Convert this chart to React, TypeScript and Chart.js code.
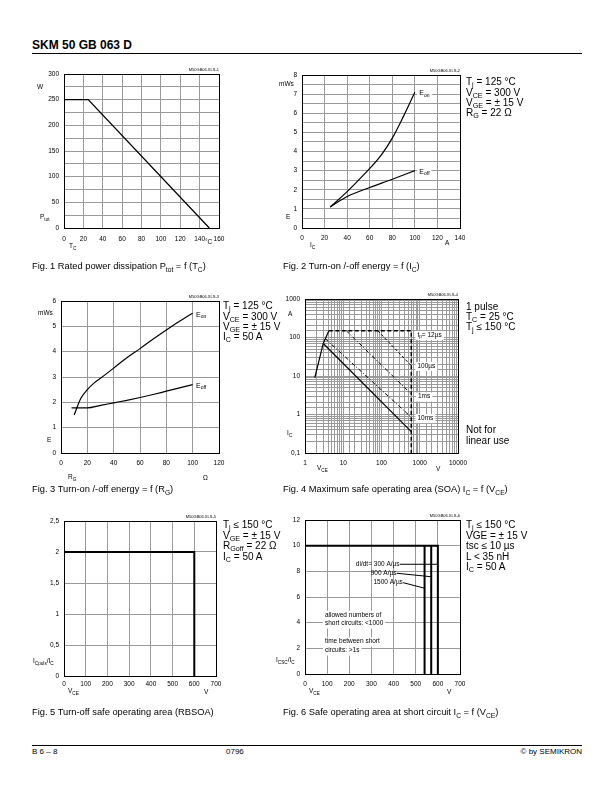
import React, { useEffect, useRef } from 'react';
import { Chart, registerables } from 'chart.js';

Chart.register(...registerables);

const FONT = '"Liberation Sans", Arial, Helvetica, sans-serif';
const GRID = '#9a9a9a';

// ---------- Fig. 1 : Ptot = f(Tc) ----------
const fig1TcC = [0, 25, 150];
const fig1PtotW = [250, 250, 0];

// ---------- Fig. 2 : E = f(Ic) ----------
const fig2IcOnA = [25, 40, 55, 70, 80, 90, 100];
const fig2EonMWs = [1.1, 1.9, 2.8, 3.8, 4.7, 5.85, 7.1];
const fig2IcOffA = [25, 40, 60, 80, 100];
const fig2EoffMWs = [1.1, 1.65, 2.12, 2.55, 3.0];

// ---------- Fig. 3 : E = f(Rg) ----------
const fig3RgOnOhm = [10, 15, 20, 25, 30, 40, 50, 60, 70, 80, 90, 100];
const fig3EonMWs = [1.5, 2.15, 2.5, 2.76, 2.95, 3.35, 3.76, 4.12, 4.5, 4.86, 5.2, 5.52];
const fig3RgOffOhm = [8, 20, 30, 40, 50, 60, 70, 80, 90, 100];
const fig3EoffMWs = [1.78, 1.78, 1.88, 1.98, 2.08, 2.19, 2.31, 2.44, 2.57, 2.7];

// ---------- Fig. 4 : SOA ----------
const fig4LimbV = [1.8, 3, 4.2];
const fig4LimbA = [9, 70, 150];
const fig4DcV = [3, 600];
const fig4DcA = [70, 0.36];
const fig4TpV = [4.2, 600, 600];
const fig4TpA = [150, 150, 0.1];
const fig4P100usV = [80, 600];
const fig4P100usA = [150, 18.5];
const fig4P1msV = [12, 600];
const fig4P1msA = [150, 3.4];
const fig4P10msV = [3.4, 600];
const fig4P10msA = [93, 0.85];

// ---------- Fig. 5 : RBSOA ----------
const fig5VceV = [0, 600, 600];
const fig5Ratio = [2, 2, 0];

// ---------- Fig. 6 : short circuit SOA ----------
const fig6LimitV = [0, 600, 600];
const fig6LimitRatio = [10, 10, 0];
const fig6Line570V = [570, 570];
const fig6Line540V = [540, 540];
const fig6VertRatio = [10, 0];
const fig6Lead300V = [428, 600];
const fig6Lead300R = [8.55, 8.55];
const fig6Lead900V = [414, 570];
const fig6Lead900R = [7.85, 7.58];
const fig6Lead1500V = [443, 540];
const fig6Lead1500R = [7.12, 6.68];

const YW = 44;
const XH = 18;
const PT = 8;
const PR = 16;

type Part = [string, boolean?];
type Note = { x: number; y: number; parts: Part[]; align?: 'left' | 'right'; bg?: boolean; size?: number };
type Series = { xs: number[]; ys: number[]; width: number; dash?: number[]; smooth?: boolean };
type AxisSpec = {
  type: 'linear' | 'logarithmic';
  min: number;
  max: number;
  step?: number;
  label: (v: number) => string;
  pad: number;
};
type Spec = {
  left: number;
  top: number;
  right: number;
  bottom: number;
  x: AxisSpec;
  y: AxisSpec;
  series: Series[];
  notes?: Note[];
};

const isPow10 = (v: number) => {
  const l = Math.log10(v);
  return Math.abs(l - Math.round(l)) < 1e-6;
};
const comma = (v: number) => String(v).replace('.', ',');

function drawParts(ctx: CanvasRenderingContext2D, n: Note) {
  const size = n.size || 7;
  const widths = n.parts.map(([t, sub]) => {
    ctx.font = `${sub ? size * 0.72 : size}px ${FONT}`;
    return ctx.measureText(t).width;
  });
  const w = widths.reduce((a, b) => a + b, 0);
  let cx = n.align === 'right' ? n.x - w : n.x;
  if (n.bg) {
    ctx.fillStyle = '#fff';
    ctx.fillRect(cx - 2, n.y - size * 0.65, w + 4, size * 1.4);
  }
  ctx.fillStyle = '#000';
  ctx.textBaseline = 'middle';
  ctx.textAlign = 'left';
  n.parts.forEach(([t, sub], i) => {
    ctx.font = `${sub ? size * 0.72 : size}px ${FONT}`;
    ctx.fillText(t, cx, sub ? n.y + size * 0.3 : n.y);
    cx += widths[i];
  });
}

function axisOpts(a: AxisSpec, horiz: boolean) {
  return {
    type: a.type,
    min: a.min,
    max: a.max,
    position: horiz ? 'bottom' : 'left',
    ticks: {
      stepSize: a.step,
      autoSkip: false,
      maxRotation: 0,
      minRotation: 0,
      includeBounds: true,
      padding: a.pad,
      color: '#000',
      font: { family: FONT, size: 6.5 },
      callback: (v: any) => a.label(Number(v)),
    },
    grid: { color: GRID, lineWidth: 1, drawTicks: false },
    border: { display: false },
    afterFit: (s: any) => {
      if (horiz) s.height = XH;
      else s.width = YW;
      s.paddingLeft = 0;
      s.paddingRight = 0;
      s.paddingTop = 0;
      s.paddingBottom = 0;
    },
  };
}

function ChartBox({ spec }: { spec: Spec }) {
  const ref = useRef<HTMLCanvasElement>(null);
  const w = spec.right - spec.left + YW + PR;
  const h = spec.bottom - spec.top + PT + XH;
  useEffect(() => {
    const canvas = ref.current;
    if (!canvas) return;
    const notes = spec.notes || [];
    const chart = new Chart(canvas, {
      type: 'line',
      data: {
        datasets: spec.series.map((s) => ({
          data: s.xs.map((x, i) => ({ x, y: s.ys[i] })),
          borderColor: '#000',
          borderWidth: s.width,
          borderDash: s.dash || [],
          pointRadius: 0,
          fill: false,
          tension: 0,
          cubicInterpolationMode: s.smooth ? 'monotone' : 'default',
        })),
      },
      options: {
        responsive: false,
        animation: false,
        events: [],
        layout: { padding: { left: 0, top: PT, right: PR, bottom: 0 } },
        plugins: { legend: { display: false }, tooltip: { enabled: false }, title: { display: false } },
        scales: { x: axisOpts(spec.x, true), y: axisOpts(spec.y, false) } as any,
      },
      plugins: [
        {
          id: 'frameNotes',
          beforeDatasetsDraw(c: any) {
            const { ctx, chartArea: a } = c;
            ctx.save();
            ctx.strokeStyle = '#000';
            ctx.lineWidth = 1;
            ctx.strokeRect(
              Math.round(a.left) + 0.5,
              Math.round(a.top) + 0.5,
              Math.round(a.right) - Math.round(a.left),
              Math.round(a.bottom) - Math.round(a.top)
            );
            ctx.restore();
          },
          afterDatasetsDraw(c: any) {
            const { ctx } = c;
            ctx.save();
            notes.forEach((n) => {
              drawParts(ctx, {
                ...n,
                x: c.scales.x.getPixelForValue(n.x),
                y: c.scales.y.getPixelForValue(n.y),
              });
            });
            ctx.restore();
          },
        },
      ],
    } as any);
    return () => chart.destroy();
  }, []);
  return (
    <div style={{ position: 'absolute', left: spec.left - YW, top: spec.top - PT, width: w, height: h }}>
      <canvas ref={ref} width={w} height={h} style={{ width: w, height: h, display: 'block' }} />
    </div>
  );
}

const S = ({ children }: { children: React.ReactNode }) => (
  <span style={{ fontSize: '0.72em', position: 'relative', top: '0.32em' }}>{children}</span>
);

function Txt({
  x,
  y,
  size,
  children,
  right,
  bold,
}: {
  x: number;
  y: number;
  size: number;
  children: React.ReactNode;
  right?: boolean;
  bold?: boolean;
}) {
  const style: React.CSSProperties = {
    position: 'absolute',
    top: y - size * 0.6,
    fontSize: size,
    lineHeight: `${size * 1.2}px`,
    whiteSpace: 'nowrap',
    fontFamily: FONT,
    fontWeight: bold ? 'bold' : 'normal',
    color: '#000',
  };
  if (right) style.right = 614 - x;
  else style.left = x;
  return <div style={style}>{children}</div>;
}

const lin = (min: number, max: number, step: number, label: (v: number) => string, pad: number): AxisSpec => ({
  type: 'linear',
  min,
  max,
  step,
  label,
  pad,
});
const str = (v: number) => String(v);

export default function App() {
  const fig1: Spec = {
    left: 64, top: 74, right: 219, bottom: 228,
    x: lin(0, 160, 20, str, 7),
    y: lin(0, 300, 25, (v) => (v % 50 === 0 ? str(v) : ''), 5),
    series: [{ xs: fig1TcC, ys: fig1PtotW, width: 1.3 }],
  };
  const fig2: Spec = {
    left: 302, top: 75, right: 460, bottom: 228,
    x: lin(0, 140, 20, str, 6),
    y: lin(0, 8, 0.5, (v) => (Number.isInteger(v) ? str(v) : ''), 5),
    series: [
      { xs: fig2IcOnA, ys: fig2EonMWs, width: 1.2, smooth: true },
      { xs: fig2IcOffA, ys: fig2EoffMWs, width: 1.2, smooth: true },
    ],
    notes: [
      { x: 104, y: 7.05, parts: [['E'], ['on', true]], bg: true },
      { x: 104, y: 2.95, parts: [['E'], ['off', true]], bg: true },
    ],
  };
  const fig3: Spec = {
    left: 61, top: 301, right: 219, bottom: 453,
    x: lin(0, 120, 20, str, 6),
    y: lin(0, 6, 1, str, 5),
    series: [
      { xs: fig3RgOnOhm, ys: fig3EonMWs, width: 1.2, smooth: true },
      { xs: fig3RgOffOhm, ys: fig3EoffMWs, width: 1.2, smooth: true },
    ],
    notes: [
      { x: 102.5, y: 5.45, parts: [['E'], ['on', true]], bg: true },
      { x: 102.5, y: 2.65, parts: [['E'], ['off', true]], bg: true },
    ],
  };
  const fig4: Spec = {
    left: 305, top: 299, right: 458, bottom: 453,
    x: { type: 'logarithmic', min: 1, max: 10000, label: (v) => (isPow10(v) ? comma(v) : ''), pad: 6 },
    y: { type: 'logarithmic', min: 0.1, max: 1000, label: (v) => (isPow10(v) ? comma(v) : ''), pad: 5 },
    series: [
      { xs: fig4LimbV, ys: fig4LimbA, width: 1.2 },
      { xs: fig4DcV, ys: fig4DcA, width: 1.2 },
      { xs: fig4TpV, ys: fig4TpA, width: 1.5, dash: [4, 2.5] },
      { xs: fig4P100usV, ys: fig4P100usA, width: 1, dash: [3, 2] },
      { xs: fig4P1msV, ys: fig4P1msA, width: 1, dash: [4, 2, 1, 2] },
      { xs: fig4P10msV, ys: fig4P10msA, width: 1, dash: [4, 2, 1, 2] },
    ],
    notes: [
      { x: 870, y: 115, parts: [['t'], ['p', true], ['= 12µs']], bg: true, size: 6.5 },
      { x: 870, y: 18, parts: [['100µs']], bg: true, size: 6.5 },
      { x: 900, y: 2.9, parts: [['1ms']], bg: true, size: 6.5 },
      { x: 870, y: 0.8, parts: [['10ms']], bg: true, size: 6.5 },
    ],
  };
  const fig5: Spec = {
    left: 64, top: 521, right: 216, bottom: 676,
    x: lin(0, 700, 100, str, 4),
    y: lin(0, 2.5, 0.5, comma, 5),
    series: [{ xs: fig5VceV, ys: fig5Ratio, width: 2 }],
  };
  const fig6: Spec = {
    left: 305, top: 520, right: 460, bottom: 674,
    x: lin(0, 700, 100, str, 6),
    y: lin(0, 12, 2, str, 5),
    series: [
      { xs: fig6LimitV, ys: fig6LimitRatio, width: 2 },
      { xs: fig6Line570V, ys: fig6VertRatio, width: 2 },
      { xs: fig6Line540V, ys: fig6VertRatio, width: 2 },
      { xs: fig6Lead300V, ys: fig6Lead300R, width: 1 },
      { xs: fig6Lead900V, ys: fig6Lead900R, width: 1 },
      { xs: fig6Lead1500V, ys: fig6Lead1500R, width: 1 },
    ],
    notes: [
      { x: 427, y: 8.55, parts: [['di/dt= 300 A/µs']], align: 'right', size: 6.5 },
      { x: 413, y: 7.85, parts: [['900 A/µs']], align: 'right', size: 6.5 },
      { x: 442, y: 7.12, parts: [['1500 A/µs']], align: 'right', size: 6.5 },
      { x: 90, y: 4.6, parts: [['allowed numbers of']], bg: true, size: 6.5 },
      { x: 90, y: 3.92, parts: [['short circuits: <1000']], bg: true, size: 6.5 },
      { x: 90, y: 2.52, parts: [['time between short']], bg: true, size: 6.5 },
      { x: 90, y: 1.82, parts: [['circuits: >1s']], bg: true, size: 6.5 },
    ],
  };

  const u = 6.5;
  const b = 10;
  const cap = 9.3;
  return (
    <div
      style={{
        position: 'absolute',
        left: 0,
        top: 0,
        width: 614,
        height: 792,
        background: '#fff',
        overflow: 'hidden',
        fontFamily: FONT,
      }}
    >
      <Txt x={32} y={45} size={12} bold>
        SKM 50 GB 063 D
      </Txt>
      <div style={{ position: 'absolute', left: 32, top: 53, width: 550, height: 1, background: '#000' }} />

      <ChartBox spec={fig1} />
      <ChartBox spec={fig2} />
      <ChartBox spec={fig3} />
      <ChartBox spec={fig4} />
      <ChartBox spec={fig5} />
      <ChartBox spec={fig6} />

      {/* tiny file tags */}
      <Txt x={219} y={70} size={4} right>M50GB06.XLS-1</Txt>
      <Txt x={460} y={71} size={4} right>M50GB06.XLS-2</Txt>
      <Txt x={219} y={297} size={4} right>M50GB06.XLS-3</Txt>
      <Txt x={458} y={295} size={4} right>M50GB06.XLS-4</Txt>
      <Txt x={216} y={517} size={4} right>M50GB06.XLS-5</Txt>
      <Txt x={460} y={516} size={4} right>M50GB06.XLS-6</Txt>

      {/* Fig 1 axis units */}
      <Txt x={37} y={87} size={u}>W</Txt>
      <Txt x={40} y={217} size={u}>P<S>tot</S></Txt>
      <Txt x={69} y={246} size={u}>T<S>C</S></Txt>
      <Txt x={205} y={242} size={u}>°C</Txt>

      {/* Fig 2 */}
      <Txt x={279} y={84} size={u}>mWs</Txt>
      <Txt x={286} y={217} size={u}>E</Txt>
      <Txt x={310} y={245} size={u}>I<S>C</S></Txt>
      <Txt x={445} y={243} size={u}>A</Txt>
      <Txt x={466} y={82} size={b}>T<S>j</S> = 125 °C</Txt>
      <Txt x={466} y={92.5} size={b}>V<S>CE</S> = 300 V</Txt>
      <Txt x={466} y={103} size={b}>V<S>GE</S> = ± 15 V</Txt>
      <Txt x={466} y={113} size={b}>R<S>G</S> = 22 Ω</Txt>

      {/* Fig 3 */}
      <Txt x={38} y={313} size={u}>mWs</Txt>
      <Txt x={47} y={440} size={u}>E</Txt>
      <Txt x={68} y={477} size={u}>R<S>G</S></Txt>
      <Txt x={203} y={478} size={u}>Ω</Txt>
      <Txt x={223} y={306} size={b}>T<S>j</S> = 125 °C</Txt>
      <Txt x={223} y={316.5} size={b}>V<S>CE</S> = 300 V</Txt>
      <Txt x={223} y={327} size={b}>V<S>GE</S> = ± 15 V</Txt>
      <Txt x={223} y={337} size={b}>I<S>C</S> = 50 A</Txt>

      {/* Fig 4 */}
      <Txt x={288} y={314} size={u}>A</Txt>
      <Txt x={287} y={433} size={u}>I<S>C</S></Txt>
      <Txt x={317} y={468} size={u}>V<S>CE</S></Txt>
      <Txt x={436} y={469} size={u}>V</Txt>
      <Txt x={466} y={306.5} size={b}>1 pulse</Txt>
      <Txt x={466} y={317} size={b}>T<S>C</S> = 25 °C</Txt>
      <Txt x={466} y={327} size={b}>T<S>j</S> ≤ 150 °C</Txt>
      <Txt x={466} y={430} size={b}>Not for</Txt>
      <Txt x={466} y={440.5} size={b}>linear use</Txt>

      {/* Fig 5 */}
      <Txt x={33} y={661} size={u}>I<S>Cpuls</S>/I<S>C</S></Txt>
      <Txt x={68} y={691} size={u}>V<S>CE</S></Txt>
      <Txt x={204} y={692} size={u}>V</Txt>
      <Txt x={223} y={525} size={b}>T<S>j</S> ≤ 150 °C</Txt>
      <Txt x={223} y={535.5} size={b}>V<S>GE</S> = ± 15 V</Txt>
      <Txt x={223} y={546} size={b}>R<S>Goff</S> = 22 Ω</Txt>
      <Txt x={223} y={556.5} size={b}>I<S>C</S> = 50 A</Txt>

      {/* Fig 6 */}
      <Txt x={276} y={660} size={u}>I<S>CSC</S>/I<S>C</S></Txt>
      <Txt x={309} y={691} size={u}>V<S>CE</S></Txt>
      <Txt x={447} y={692} size={u}>V</Txt>
      <Txt x={466} y={525} size={b}>T<S>j</S> ≤ 150 °C</Txt>
      <Txt x={466} y={535.5} size={b}>VGE = ± 15 V</Txt>
      <Txt x={466} y={546} size={b}>tsc ≤ 10 µs</Txt>
      <Txt x={466} y={556.5} size={b}>L &lt; 35 nH</Txt>
      <Txt x={466} y={567} size={b}>I<S>C</S> = 50 A</Txt>

      {/* captions */}
      <Txt x={32} y={267} size={cap}>Fig. 1 Rated power dissipation P<S>tot</S> = f (T<S>C</S>)</Txt>
      <Txt x={283} y={267} size={cap}>Fig. 2 Turn-on /-off energy = f (I<S>C</S>)</Txt>
      <Txt x={32} y={490} size={cap}>Fig. 3 Turn-on /-off energy = f (R<S>G</S>)</Txt>
      <Txt x={283} y={490} size={cap}>Fig. 4 Maximum safe operating area (SOA) I<S>C</S> = f (V<S>CE</S>)</Txt>
      <Txt x={32} y={713} size={cap}>Fig. 5 Turn-off safe operating area (RBSOA)</Txt>
      <Txt x={283} y={713} size={cap}>Fig. 6 Safe operating area at short circuit I<S>C</S> = f (V<S>CE</S>)</Txt>

      {/* footer */}
      <div style={{ position: 'absolute', left: 32, top: 745, width: 550, height: 1, background: '#000' }} />
      <Txt x={32} y={752} size={8}>B 6 – 8</Txt>
      <Txt x={226} y={752} size={8}>0796</Txt>
      <Txt x={582} y={752} size={8} right>© by SEMIKRON</Txt>
    </div>
  );
}
